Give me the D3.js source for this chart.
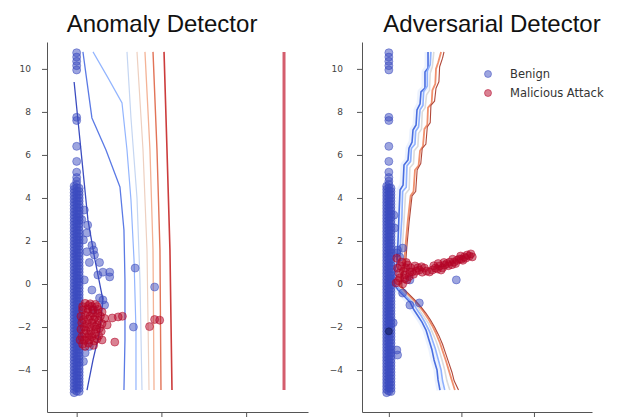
<!DOCTYPE html>
<html>
<head>
<meta charset="utf-8">
<script src="https://cdn.jsdelivr.net/npm/d3@7"></script>
<style>
  body { margin: 0; background: #fff; }
  svg { display: block; }
</style>
</head>
<body>
<svg id="chart" width="619" height="417"></svg>
<script>
const titles = ["Anomaly Detector", "Adversarial Detector"];
const legendLabels = ["Benign", "Malicious Attack"];
const yTicks = [-4, -2, 0, 2, 4, 6, 8, 10];
const xTicks = [0, 1, 2];

// benign points shared by both panels: sparse top points and the dense column at x ~ 0
const benignTop = [
  [0, 10.75], [0, 10.55], [0, 10.35], [0, 10.15], [0, 9.95], [0, 7.75], [0, 7.6], [0, 6.4], [0, 5.7], [0, 5.2]
];
const columnLeftY = [
  -5.05, -4.9, -4.75, -4.6, -4.45, -4.3, -4.15, -4.0, -3.85, -3.7, -3.55, -3.4, -3.25, -3.1, -2.95, -2.8,
  -2.65, -2.5, -2.35, -2.2, -2.05, -1.9, -1.75, -1.6, -1.45, -1.3, -1.15, -1.0, -0.85, -0.7, -0.55, -0.4,
  -0.25, -0.1, 0.05, 0.2, 0.35, 0.5, 0.65, 0.8, 0.95, 1.1, 1.25, 1.4, 1.55, 1.7, 1.85, 2.0, 2.15, 2.3,
  2.45, 2.6, 2.75, 2.9, 3.05, 3.2, 3.35, 3.5, 3.65, 3.8, 3.95, 4.1, 4.25, 4.4, 4.55
];
const columnMidY = [
  -4.98, -4.83, -4.68, -4.53, -4.38, -4.23, -4.08, -3.93, -3.78, -3.63, -3.48, -3.33, -3.18, -3.03, -2.88,
  -2.73, -2.58, -2.43, -2.28, -2.13, -1.98, -1.83, -1.68, -1.53, -1.38, -1.23, -1.08, -0.93, -0.78, -0.63,
  -0.48, -0.33, -0.18, -0.03, 0.12, 0.27, 0.42, 0.57, 0.72, 0.87, 1.02, 1.17, 1.32, 1.47, 1.62, 1.77, 1.92,
  2.07, 2.22, 2.37, 2.52, 2.67, 2.82, 2.97, 3.12, 3.27, 3.42, 3.57, 3.72, 3.87, 4.02, 4.17, 4.32, 4.47,
  4.62, 4.78, 4.95
];
const columnRightY = [
  -5.0, -4.85, -4.7, -4.55, -4.4, -4.25, -4.1, -3.95, -3.8, -3.65, -3.5, -3.35, -3.2, -3.05, -2.9, -2.75,
  -2.6, -2.45, -2.3, -2.15, -2.0, -1.85, -1.7, -1.55, -1.4, -1.25, -1.1, -0.95, -0.8, -0.65, -0.5, -0.35,
  -0.2, -0.05, 0.1, 0.25, 0.4, 0.55, 0.7, 0.85, 1.0, 1.15, 1.3, 1.45, 1.6, 1.75, 1.9, 2.05, 2.2, 2.35,
  2.5, 2.65, 2.8, 2.95, 3.1, 3.25, 3.4, 3.55, 3.7, 3.85, 4.0, 4.15, 4.3, 4.45
];
const columnX = [-0.03, 0, 0.03];

// ---- left panel: anomaly detector ----
const anomalyBenignExtra = [
  [0.09, 3.44], [0.06, 3.0], [0.13, 2.74], [0.08, 2.05], [0.18, 1.8], [0.12, 1.5], [0.21, 1.35], [0.15, 1.0],
  [0.27, 1.0], [0.31, 0.55], [0.39, 0.55], [0.25, 0.42], [0.09, 0.19], [0.18, -0.28], [0.27, -0.65],
  [0.33, -0.98], [0.12, 2.37], [0.2, 1.58], [0.39, 0.33], [0.31, -0.74], [0.1, -3.2], [0.15, -2.9],
  [0.08, -3.6], [0.2, -1.2], [0.69, 0.74], [0.92, -0.14], [0.67, -2.0]
];
const anomalyMalicious = [
  [0.1, -0.9], [0.16, -0.92], [0.22, -0.95], [0.07, -1.2], [0.13, -1.15], [0.19, -1.2], [0.25, -1.18],
  [0.3, -1.3], [0.05, -1.5], [0.1, -1.45], [0.16, -1.5], [0.22, -1.55], [0.28, -1.5], [0.33, -1.6],
  [0.06, -1.8], [0.12, -1.85], [0.18, -1.8], [0.24, -1.9], [0.3, -1.85], [0.05, -2.1], [0.11, -2.15],
  [0.17, -2.2], [0.23, -2.1], [0.29, -2.2], [0.06, -2.45], [0.12, -2.5], [0.18, -2.45], [0.24, -2.55],
  [0.07, -2.8], [0.14, -2.75], [0.2, -2.85], [0.04, -2.6], [0.26, -2.4], [0.09, -2.3], [0.2, -1.65],
  [0.14, -1.0], [0.13, -1.3], [0.19, -1.35], [0.25, -1.35], [0.08, -1.65], [0.14, -1.65], [0.26, -1.7],
  [0.09, -2.0], [0.15, -2.0], [0.21, -1.98], [0.27, -2.05], [0.15, -2.35], [0.21, -2.3], [0.09, -2.62],
  [0.15, -2.6], [0.21, -2.65], [0.1, -2.9], [0.18, -1.05], [0.24, -1.05], [0.07, -1.05],
  [0.36, -1.9], [0.3, -2.6], [0.42, -1.58], [0.49, -1.53], [0.54, -1.5], [0.45, -2.7],
  [0.92, -1.65], [0.98, -1.68], [0.86, -1.98]
];
const anomalyContours = [
  [[-0.03, 9.39], [0.027, 7.16], [0.086, 4.83], [0.133, 2.98], [0.216, 1.12], [0.31, -0.74], [0.275, -2.14], [0.193, -3.53], [0.122, -4.93]],
  [[0.074, 10.79], [0.18, 7.72], [0.346, 6.23], [0.511, 4.51], [0.558, 2.51], [0.57, 0.19], [0.57, -2.6], [0.558, -4.93]],
  [[0.193, 10.79], [0.37, 9.58], [0.535, 8.42], [0.594, 6.23], [0.641, 3.9], [0.677, 1.12], [0.7, -2.14], [0.7, -4.93]],
  [[0.594, 10.79], [0.641, 7.72], [0.712, 4.0], [0.747, 0.19], [0.771, -4.93]],
  [[0.712, 10.79], [0.783, 6.23], [0.83, 1.58], [0.854, -4.93]],
  [[0.806, 10.79], [0.865, 6.23], [0.901, 1.58], [0.913, -4.93]],
  [[0.901, 10.79], [0.948, 6.23], [0.983, 1.58], [0.995, -4.93]],
  [[1.031, 10.79], [1.066, 6.23], [1.101, 1.58], [1.125, -4.93]],
  [[2.447, 10.79], [2.447, -4.93]]
];
const anomalyContourColors = ["#3b4cc0", "#5b7ae5", "#93b5fe", "#c5d6f2", "#eed0c0", "#f4b396", "#e27357", "#cc3b3b", "#d45d6d"];

// ---- right panel: adversarial detector ----
const adversarialBenignExtra = [
  [0.11, 1.44], [0.12, 1.58], [0.19, 1.67], [0.15, 1.26], [0.29, 0.19], [0.19, -0.42], [0.29, -0.98],
  [0.42, -0.88], [0.06, -1.8], [0.11, -3.07], [0.12, -3.3], [0.08, 2.6], [0.07, 3.2], [0.93, 0.19]
];
const adversarialDark = [[0, -2.2]];
const adversarialMalicious = [
  [0.12, 0.74], [0.18, 1.02], [0.22, 0.42], [0.26, 0.88], [0.32, 0.56], [0.15, 0.28], [0.36, 0.84],
  [0.42, 0.65], [0.49, 0.74], [0.56, 0.56], [0.64, 0.74], [0.7, 0.84], [0.77, 0.88], [0.84, 1.02],
  [0.9, 1.02], [0.97, 1.16], [1.04, 1.26], [1.11, 1.3], [1.15, 1.26], [0.19, 0.0], [0.25, 0.19],
  [0.11, 1.2], [0.2, 0.6], [0.3, 0.75], [0.38, 0.6], [0.46, 0.55], [0.6, 0.65], [0.67, 0.7], [0.74, 0.75],
  [0.8, 0.95], [0.87, 0.9], [0.94, 1.1], [1.0, 1.15], [1.08, 1.35], [0.14, 0.5], [0.28, 0.35], [0.1, 0.05],
  [0.16, 0.85], [0.23, 0.75], [0.29, 0.55], [0.34, 0.45], [0.4, 0.75], [0.45, 0.8], [0.52, 0.6],
  [0.62, 0.85], [0.68, 0.95], [0.72, 0.65], [0.76, 1.0], [0.82, 0.85], [0.88, 1.15], [0.92, 0.95],
  [0.99, 1.3], [1.02, 1.1], [1.06, 1.2], [1.13, 1.4], [0.13, 0.15], [0.22, 0.25], [0.24, 1.0]
];
const adversarialContours = [
  [[0.54, 10.79], [0.54, 10.04], [0.498, 9.86], [0.498, 9.11], [0.443, 8.93], [0.43, 8.37], [0.388, 8.09], [0.375, 7.39], [0.333, 7.16], [0.32, 6.6], [0.278, 6.32], [0.264, 5.76], [0.209, 5.53], [0.196, 4.6], [0.154, 4.37], [0.14, 3.21], [0.127, 2.05], [0.113, 1.02], [0.058, 0.28], [0.072, 0], [0.127, -0.28], [0.209, -0.56], [0.292, -0.84], [0.347, -1.21], [0.402, -1.49], [0.457, -1.77], [0.512, -2.14], [0.553, -2.6], [0.595, -3.07], [0.623, -3.53], [0.664, -4.0], [0.678, -4.46], [0.705, -4.93]],
  [[0.58, 10.79], [0.57, 10.2], [0.53, 9.9], [0.53, 9.2], [0.48, 8.95], [0.47, 8.3], [0.43, 8.1], [0.41, 7.3], [0.37, 7.1], [0.36, 6.5], [0.31, 6.3], [0.3, 5.7], [0.25, 5.5], [0.24, 4.5], [0.19, 4.3], [0.18, 3.1], [0.16, 2.0], [0.15, 1.0], [0.09, 0.3], [0.1, 0.0], [0.16, -0.3], [0.25, -0.6], [0.33, -0.85], [0.39, -1.2], [0.45, -1.5], [0.5, -1.8], [0.56, -2.2], [0.6, -2.6], [0.64, -3.0], [0.68, -3.5], [0.72, -4.0], [0.74, -4.5], [0.77, -4.93]],
  [[0.62, 10.79], [0.6, 10.1], [0.57, 9.8], [0.56, 9.0], [0.52, 8.8], [0.5, 8.2], [0.46, 8.0], [0.45, 7.2], [0.41, 7.0], [0.4, 6.4], [0.35, 6.2], [0.34, 5.6], [0.29, 5.4], [0.28, 4.4], [0.23, 4.2], [0.21, 3.0], [0.19, 1.9], [0.17, 0.9], [0.12, 0.3], [0.13, -0.05], [0.2, -0.35], [0.29, -0.65], [0.37, -0.9], [0.43, -1.25], [0.49, -1.55], [0.55, -1.85], [0.6, -2.25], [0.65, -2.65], [0.69, -3.05], [0.73, -3.5], [0.77, -4.0], [0.8, -4.5], [0.84, -4.93]],
  [[0.72, 10.79], [0.68, 10.3], [0.65, 10.0], [0.64, 9.3], [0.6, 9.0], [0.59, 8.4], [0.54, 8.2], [0.53, 7.4], [0.49, 7.2], [0.47, 6.4], [0.43, 6.2], [0.41, 5.5], [0.36, 5.3], [0.34, 4.3], [0.3, 4.1], [0.26, 2.9], [0.23, 1.8], [0.21, 0.9], [0.16, 0.3], [0.16, -0.1], [0.24, -0.4], [0.33, -0.7], [0.41, -1.0], [0.48, -1.3], [0.54, -1.6], [0.6, -1.95], [0.65, -2.3], [0.7, -2.7], [0.74, -3.1], [0.79, -3.6], [0.83, -4.05], [0.87, -4.5], [0.91, -4.93]],
  [[0.76, 10.79], [0.74, 10.5], [0.7, 10.1], [0.69, 9.4], [0.65, 9.1], [0.63, 8.5], [0.58, 8.3], [0.57, 7.5], [0.53, 7.3], [0.51, 6.5], [0.46, 6.3], [0.44, 5.6], [0.39, 5.3], [0.37, 4.3], [0.32, 4.1], [0.28, 2.9], [0.25, 1.8], [0.23, 0.9], [0.18, 0.3], [0.18, -0.15], [0.27, -0.45], [0.36, -0.75], [0.44, -1.05], [0.51, -1.35], [0.57, -1.65], [0.63, -2.0], [0.69, -2.4], [0.74, -2.8], [0.78, -3.2], [0.83, -3.7], [0.87, -4.1], [0.9, -4.5], [0.96, -4.93]]
];
const adversarialContourColors = ["#4a6ee0", "#8fb1fe", "#dcdcdc", "#f0906e", "#b0483a"];

const BLUE = "#3b4cc0";
const RED = "#b40426";

const benignColumn = benignTop.concat(
  columnLeftY.map((v) => [columnX[0], v]),
  columnMidY.map((v) => [columnX[1], v]),
  columnRightY.map((v) => [columnX[2], v])
);

const svg = d3.select("#chart");

function drawPanel(p) {
  const x = d3.scaleLinear().domain(p.xDomain).range([p.left, p.right]);
  const y = d3.scaleLinear().domain([-5.95, 11.25]).range([412, 42]);

  const g = svg.append("g");

  g.append("text")
    .attr("x", p.titleX)
    .attr("y", 32)
    .attr("text-anchor", "middle")
    .attr("font-family", "Liberation Sans, Arial, sans-serif")
    .attr("font-size", "24px")
    .attr("fill", "#111")
    .text(p.title);

  const line = d3.line().x((d) => x(d[0])).y((d) => y(d[1]));

  if (p.halo) {
    g.append("path")
      .attr("d", line(p.contours[0]))
      .attr("fill", "none")
      .attr("stroke", "#b3cdfc")
      .attr("stroke-width", 7)
      .attr("stroke-opacity", 0.25)
      .attr("stroke-linejoin", "round");
  }

  g.selectAll(".contour")
    .data(p.contours)
    .enter()
    .append("path")
    .attr("d", (d) => line(d))
    .attr("fill", "none")
    .attr("stroke", (d, i) => p.colors[i])
    .attr("stroke-width", (d, i) => p.widths[i])
    .attr("stroke-linejoin", "round");

  function dots(data, color, r) {
    g.append("g")
      .selectAll("circle")
      .data(data)
      .enter()
      .append("circle")
      .attr("cx", (d) => x(d[0]))
      .attr("cy", (d) => y(d[1]))
      .attr("r", r)
      .attr("fill", color)
      .attr("fill-opacity", 0.5)
      .attr("stroke", color)
      .attr("stroke-opacity", 0.5)
      .attr("stroke-width", 1);
  }

  dots(benignColumn, BLUE, 4);
  dots(p.benign, BLUE, 4);
  if (p.dark) dots(p.dark, "#101850", 3.5);
  dots(p.malicious, RED, 4);

  const yAxis = d3.axisLeft(y).tickValues(yTicks).tickSize(5).tickSizeOuter(0).tickPadding(p.tickPad);
  const xAxis = d3.axisBottom(x).tickValues(xTicks).tickSize(5).tickSizeOuter(0).tickFormat(() => "");

  const ya = g.append("g").attr("transform", `translate(${p.left},0)`).call(yAxis);
  const xa = g.append("g").attr("transform", "translate(0,412)").call(xAxis);
  [ya, xa].forEach((a) => {
    a.select(".domain").attr("stroke", "#555");
    a.selectAll(".tick line").attr("stroke", "#555");
    a.selectAll(".tick text")
      .attr("fill", "#444")
      .attr("font-family", "DejaVu Sans, sans-serif")
      .attr("font-size", "9px");
  });

  if (p.legend) {
    const lg = g.append("g");
    [BLUE, RED].forEach((c, i) => {
      lg.append("circle")
        .attr("cx", 488)
        .attr("cy", 74 + i * 19)
        .attr("r", 3.5)
        .attr("fill", c)
        .attr("fill-opacity", 0.5)
        .attr("stroke", c)
        .attr("stroke-opacity", 0.5);
      lg.append("text")
        .attr("x", 510)
        .attr("y", 78 + i * 19)
        .attr("font-family", "DejaVu Sans, sans-serif")
        .attr("font-size", "11.5px")
        .attr("fill", "#333")
        .text(legendLabels[i]);
    });
  }
}

drawPanel({
  title: titles[0],
  titleX: 162,
  xDomain: [-0.35, 2.73],
  left: 47,
  right: 308,
  tickPad: 11,
  contours: anomalyContours,
  colors: anomalyContourColors,
  widths: [1.3, 1.3, 1.2, 1.2, 1.2, 1.3, 1.4, 1.6, 3],
  benign: anomalyBenignExtra,
  malicious: anomalyMalicious
});

drawPanel({
  title: titles[1],
  titleX: 492,
  xDomain: [-0.37, 2.8],
  left: 362,
  right: 592,
  tickPad: 14,
  contours: adversarialContours,
  colors: adversarialContourColors,
  widths: [1.6, 1.6, 1.6, 1.8, 1.1],
  halo: true,
  benign: adversarialBenignExtra,
  dark: adversarialDark,
  malicious: adversarialMalicious,
  legend: true
});
</script>
</body>
</html>
